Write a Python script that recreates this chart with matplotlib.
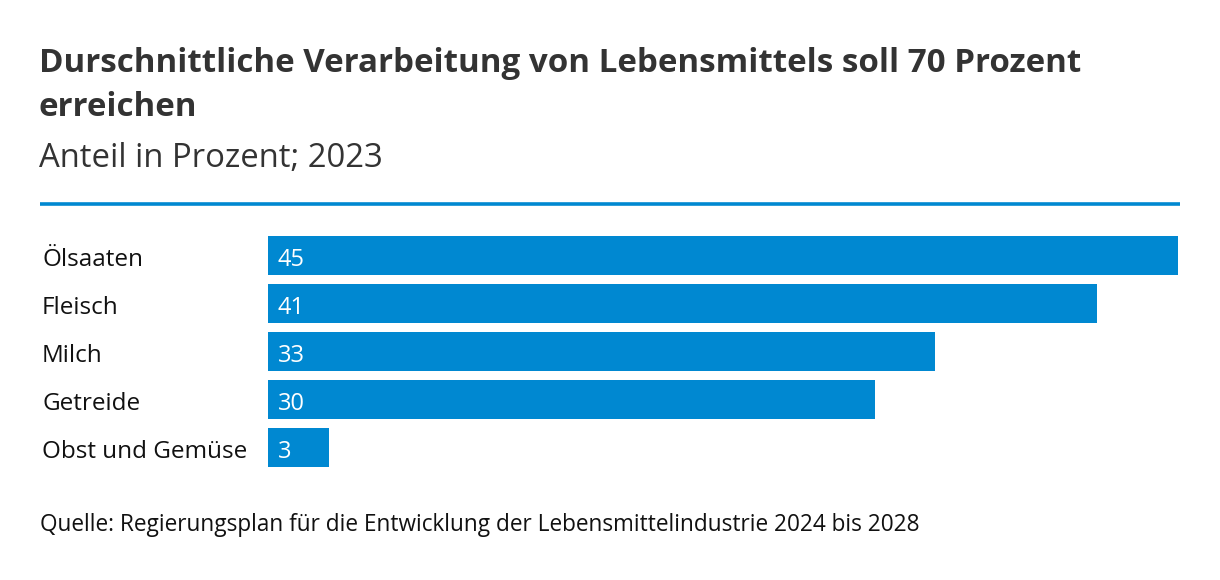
import matplotlib.pyplot as plt
import matplotlib.transforms as mtransforms

categories = ['Ölsaaten', 'Fleisch', 'Milch', 'Getreide', 'Obst und Gemüse']
values = [45, 41, 33, 30, 3]

BLUE = '#0088d1'
DARK = '#333333'
W, H = 1220, 580

plt.rcParams['font.family'] = ['Open Sans', 'DejaVu Sans']

fig = plt.figure(figsize=(W / 100, H / 100), dpi=100)

def fx(px):
    return px / W

def fy(py):
    return 1 - py / H

# title block (baseline positions)
fig.text(fx(39), fy(72), 'Durschnittliche Verarbeitung von Lebensmittels soll 70 Prozent',
         fontsize=23.9, fontweight='bold', color=DARK, va='baseline', ha='left')
fig.text(fx(39), fy(116), 'erreichen',
         fontsize=23.9, fontweight='bold', color=DARK, va='baseline', ha='left')
fig.text(fx(39), fy(167), 'Anteil in Prozent; 2023',
         fontsize=23.7, color=DARK, va='baseline', ha='left')

# blue rule under header
fig.add_artist(plt.Line2D([fx(40), fx(1180)], [fy(203.5), fy(203.5)],
                          color=BLUE, linewidth=2.6, solid_capstyle='butt'))

# bars
ax = fig.add_axes([fx(268), fy(471.5), fx(1178) - fx(268), (471.5 - 231.5) / H])
ypos = list(range(len(categories)))
ax.barh(ypos, values, height=39 / 48, color=BLUE, left=0)
ax.set_xlim(0, 45)
ax.set_ylim(4.5, -0.5)
ax.axis('off')

trans = mtransforms.blended_transform_factory(fig.transFigure, ax.transData)
for y, cat, v in zip(ypos, categories, values):
    ax.annotate(cat, xy=(fx(42), y), xycoords=trans, xytext=(0, -7.5),
                textcoords='offset points', fontsize=17.5, color='#111111',
                va='baseline', ha='left')
    ax.annotate(str(v), xy=(0, y), xytext=(7.2, -7.5), textcoords='offset points',
                fontsize=17, color='white', va='baseline', ha='left')

fig.text(fx(40), fy(531), 'Quelle: Regierungsplan für die Entwicklung der Lebensmittelindustrie 2024 bis 2028',
         fontsize=16.3, color='#111111', va='baseline', ha='left')

fig.savefig('out.png', dpi=100, facecolor='white')
